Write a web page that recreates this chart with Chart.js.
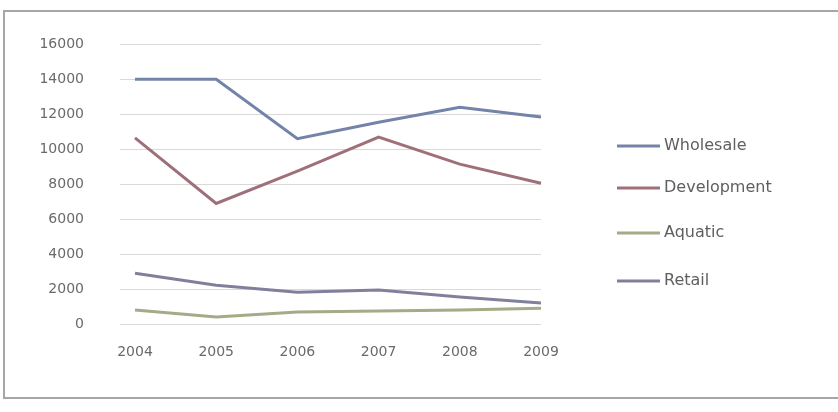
<!DOCTYPE html>
<html>
<head>
<meta charset="utf-8">
<script src="https://cdn.jsdelivr.net/npm/chart.js@4/dist/chart.umd.min.js"></script>
<style>
  html, body { margin: 0; padding: 0; background: #fff; }
  #wrap { position: relative; width: 838px; height: 412px; }
  #frame { position: absolute; left: 3px; top: 10px; width: 840px; height: 389px;
           border: 2px solid #a6a6a6; box-sizing: border-box; }
  canvas { position: absolute; left: 0; top: 0; }
</style>
</head>
<body>
<div id="wrap">
  <div id="frame"></div>
  <canvas id="c" width="838" height="412"></canvas>
</div>
<script>
// Years on the category axis
const years = ['2004', '2005', '2006', '2007', '2008', '2009'];

// Series values
const wholesale   = [14000, 14000, 10600, 11550, 12400, 11850];
const development = [10650, 6900, 8750, 10700, 9150, 8050];
const aquatic     = [800, 400, 680, 740, 800, 900];
const retail      = [2900, 2220, 1820, 1940, 1540, 1200];

const seriesNames  = ['Wholesale', 'Development', 'Aquatic', 'Retail'];
const seriesColors = ['#7484a8', '#a0707a', '#a4ab86', '#80809c'];

// Value-axis ticks
const yTicks = [0, 2000, 4000, 6000, 8000, 10000, 12000, 14000, 16000];

const allSeries = [wholesale, development, aquatic, retail];

const font = { family: 'DejaVu Sans', size: 14 };

// Legend drawn to the right of the plot
const sideLegend = {
  id: 'sideLegend',
  afterDraw(chart) {
    const ctx = chart.ctx;
    const rows = [146, 188, 233, 281];
    ctx.save();
    chart.data.datasets.forEach((ds, i) => {
      const y = rows[i];
      ctx.strokeStyle = ds.borderColor;
      ctx.lineWidth = 3;
      ctx.beginPath();
      ctx.moveTo(617, y);
      ctx.lineTo(660, y);
      ctx.stroke();
      ctx.fillStyle = '#5f5f5f';
      ctx.font = '16px "DejaVu Sans"';
      ctx.textBaseline = 'middle';
      ctx.textAlign = 'left';
      ctx.fillText(ds.label, 664, y);
    });
    ctx.restore();
  }
};

new Chart(document.getElementById('c'), {
  type: 'line',
  data: {
    labels: years,
    datasets: allSeries.map((vals, i) => ({
      label: seriesNames[i],
      data: vals,
      borderColor: seriesColors[i],
      backgroundColor: seriesColors[i],
      borderWidth: 3,
      pointRadius: 0,
      tension: 0,
      fill: false
    }))
  },
  options: {
    responsive: false,
    animation: false,
    layout: { padding: { left: 0, right: 297, top: 43, bottom: 0 } },
    plugins: {
      legend: { display: false },
      tooltip: { enabled: false }
    },
    scales: {
      x: {
        offset: false,
        grid: { display: false, drawTicks: false },
        border: { display: false },
        ticks: { font: font, color: '#6a6a6a', padding: 20, maxRotation: 0, autoSkip: false },
        afterFit(scale) { scale.height = 88; }
      },
      y: {
        min: 0,
        max: 16000,
        afterBuildTicks(scale) { scale.ticks = yTicks.map(v => ({ value: v })); },
        grid: { color: '#d9d9d9', lineWidth: 1, drawTicks: true, tickLength: 15 },
        border: { display: false },
        ticks: { font: font, color: '#6a6a6a', padding: 36, callback: v => String(v) },
        afterFit(scale) { scale.width = 135; }
      }
    }
  },
  plugins: [sideLegend]
});
</script>
</body>
</html>
